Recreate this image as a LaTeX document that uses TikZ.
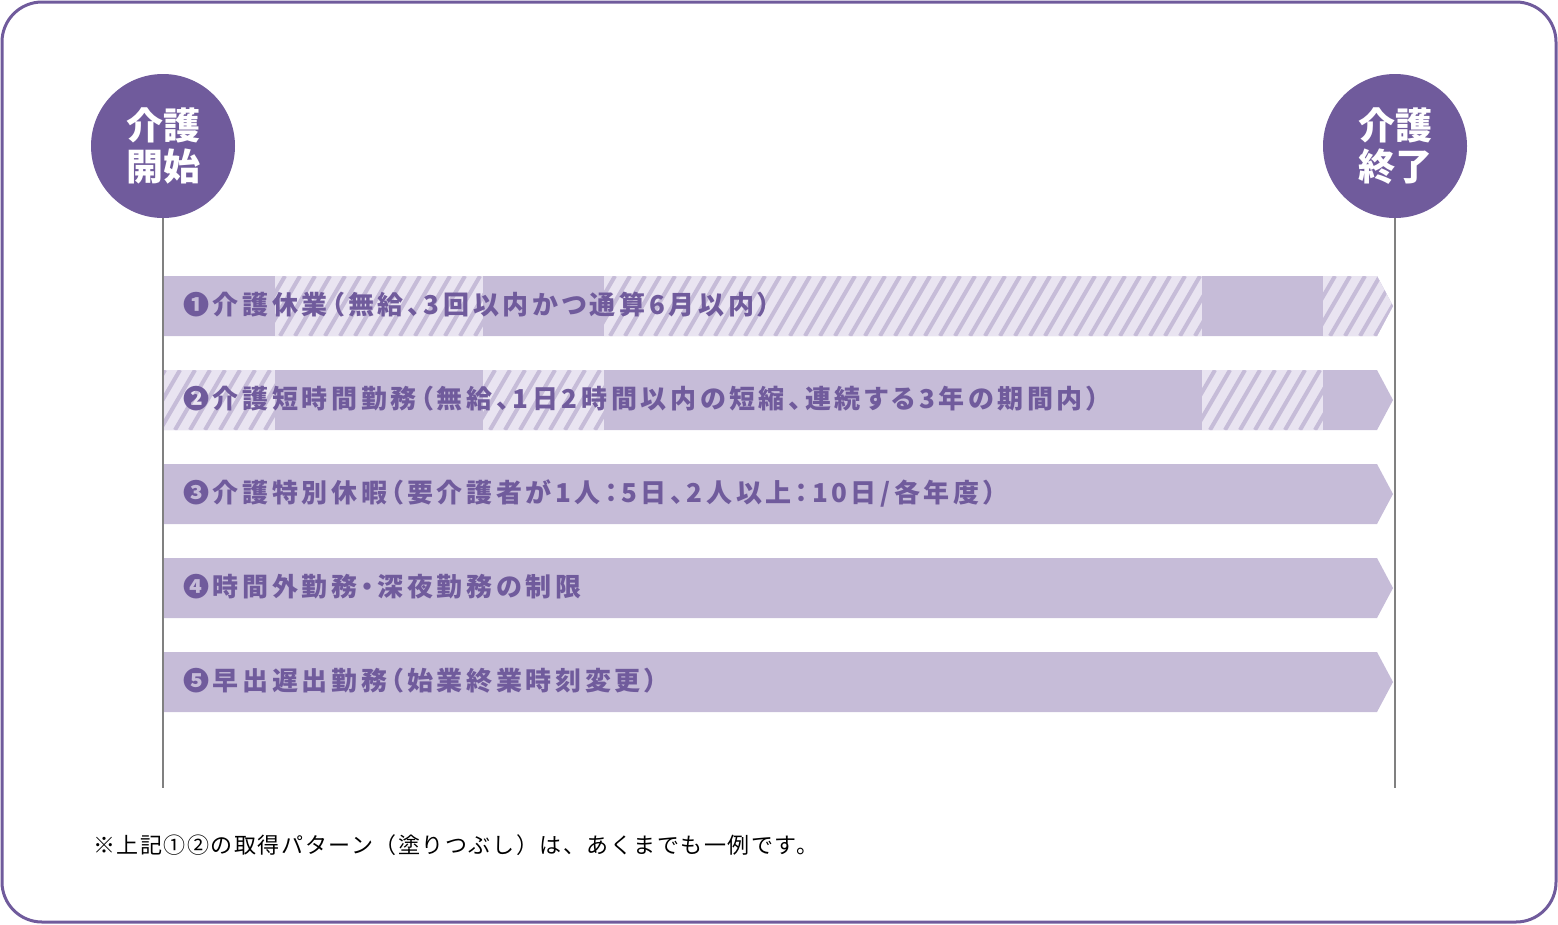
\documentclass[tikz,border=0pt]{standalone}
\usepackage{fontspec}
\setmainfont{Noto Sans CJK JP}
\newfontfamily\barfont{Noto Sans CJK JP}[RawFeature=+palt,LetterSpace=14]
\newfontfamily\notefont{Noto Sans CJK JP}[LetterSpace=7]
\definecolor{kaigo}{HTML}{705B9C}
\definecolor{barfill}{HTML}{C6BCD8}
\definecolor{hatchbg}{HTML}{E9E4F1}
\definecolor{tline}{HTML}{808080}
\tikzset{
  milestone/.style={circle,fill=kaigo,minimum size=144pt,inner sep=0pt,text=white,align=center,
    font=\bfseries\fontsize{37}{41}\selectfont},
  barlabel/.style={anchor=west,inner sep=0pt,text=kaigo,font=\barfont\bfseries\fontsize{26}{30}\selectfont},
  timeline/.style={tline,line width=2pt}
}
% arrow-shaped bar, top edge at #1
\newcommand\barpath[1]{(163,#1) -- (1377,#1) -- (1393,#1+30) -- (1377,#1+60) -- (163,#1+60) -- cycle}
% hatched part of a bar: from #1 to #2, top edge at #3
\newcommand\hatchpart[3]{%
  \fill[hatchbg] (#1,#3) rectangle (#2,#3+60);
  \begin{scope}
    \clip (#1,#3) rectangle (#2,#3+60);
    \foreach \s in {100,115,...,1420}
      \draw[barfill,line width=4pt] (\s,#3+60) -- (\s+35,#3);
  \end{scope}}
\begin{document}
\begin{tikzpicture}[x=1pt,y=-1pt]
  \useasboundingbox (0,0) rectangle (1558,924);
  \draw[kaigo,line width=3pt,rounded corners=40pt] (2,2) rectangle (1556,922);

  \node[milestone] (start) at (163,146) {介護\\開始};
  \node[milestone] (end) at (1395,146) {介護\\終了};
  \coordinate (startbot) at (163,788);
  \coordinate (endbot) at (1395,788);

  % bars
  \foreach \y in {276,370,464,558,652}
    \fill[barfill] \barpath{\y};
  \begin{scope}
    \clip \barpath{276};
    \hatchpart{275}{483}{276}
    \hatchpart{604}{1202}{276}
    \hatchpart{1323}{1400}{276}
  \end{scope}
  \begin{scope}
    \clip \barpath{370};
    \hatchpart{160}{275}{370}
    \hatchpart{483}{604}{370}
    \hatchpart{1202}{1323}{370}
  \end{scope}

  \draw[timeline] (start) -- (startbot);
  \draw[timeline] (end) -- (endbot);

  \node[barlabel] (leave) at (183,305) {❶介護休業（無給、3回以内かつ通算6月以内）};
  \node[barlabel] (short) at (183,399) {❷介護短時間勤務（無給、1日2時間以内の短縮、連続する3年の期間内）};
  \node[barlabel] (special) at (183,493) {❸介護特別休暇（要介護者が1人：5日、2人以上：10日/各年度）};
  \node[barlabel] (overtime) at (183,587) {❹時間外勤務・深夜勤務の制限};
  \node[barlabel] (shift) at (183,681) {❺早出遅出勤務（始業終業時刻変更）};

  \node[anchor=west,inner sep=0pt,font=\notefont\fontsize{22}{26}\selectfont] (note) at (93,845)
    {※上記①②の取得パターン（塗りつぶし）は、あくまでも一例です。};
\end{tikzpicture}
\end{document}
